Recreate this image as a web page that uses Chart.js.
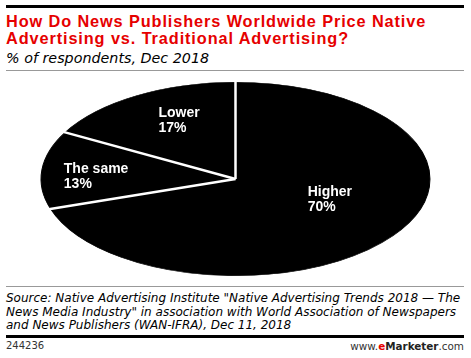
<!DOCTYPE html>
<html>
<head>
<meta charset="utf-8">
<script src="https://cdn.jsdelivr.net/npm/chart.js@4/dist/chart.umd.min.js"></script>
<style>
  html, body { margin: 0; padding: 0; background: #fff; }
  #page { position: relative; width: 471px; height: 358px; overflow: hidden; font-family: "Liberation Sans", Arial, sans-serif; }
  .rule { position: absolute; left: 6px; width: 458px; }
  #title { position: absolute; left: 6px; top: 13px; font-weight: bold; font-size: 16.3px; line-height: 17.2px; color: #e60000; letter-spacing: 0.9px; white-space: nowrap; }
  #subtitle { position: absolute; left: 6px; top: 49.5px; font-family: "DejaVu Sans", sans-serif; font-style: italic; font-size: 14.3px; color: #000; white-space: nowrap; }
  #chartBox { position: absolute; left: 0; top: 82px; width: 471px; height: 194px; }
  #source { position: absolute; left: 6px; top: 292px; font-family: "DejaVu Sans", sans-serif; font-style: italic; font-size: 12px; line-height: 13.5px; color: #000; white-space: nowrap; }
  #id { position: absolute; left: 6px; top: 340px; font-family: "DejaVu Sans", sans-serif; font-size: 10px; color: #333; }
  #brand { position: absolute; right: 7px; top: 340px; font-family: "DejaVu Sans", sans-serif; font-size: 10.4px; color: #333; }
  #brand .e { color: #e60000; font-weight: bold; }
  #brand .m { font-weight: bold; color: #222; }
</style>
</head>
<body>
<div id="page">
  <div class="rule" style="top:5px;height:3px;background:#000;"></div>
  <div id="title">How Do News Publishers Worldwide Price Native<br>Advertising vs. Traditional Advertising?</div>
  <div id="subtitle">% of respondents, Dec 2018</div>
  <div class="rule" style="top:70px;height:1px;background:#999;"></div>
  <div id="chartBox"><canvas id="c"></canvas></div>
  <div class="rule" style="top:286px;height:1px;background:#999;"></div>
  <div id="source">Source: Native Advertising Institute "Native Advertising Trends 2018 — The<br>News Media Industry" in association with World Association of Newspapers<br>and News Publishers (WAN-IFRA), Dec 11, 2018</div>
  <div class="rule" style="top:335px;height:3px;background:#000;"></div>
  <div id="id">244236</div>
  <div id="brand">www.<span class="e">e</span><span class="m">Marketer</span>.com</div>
</div>
<script>
// ---- data ----
const categories = ["Higher", "The same", "Lower"];
const values = [70, 13, 17];
const valueLabels = ["70%", "13%", "17%"];

// ---- layout options (not data) ----
const ELLIPSE_RATIO = 2.01; // horizontal stretch of the pie
const labelPlacement = [
  { fx: 0.60, fy: 0.35 },
  { fx: 0.72, fy: 0.33 },
  { fx: 0.57, fy: 0.71 }
];

const ellipsePlugin = {
  id: 'ellipse',
  beforeDatasetsDraw(chart) {
    const arc = chart.getDatasetMeta(0).data[0];
    const ctx = chart.ctx;
    ctx.save();
    ctx.translate(arc.x, arc.y);
    ctx.scale(ELLIPSE_RATIO, 1);
    ctx.translate(-arc.x, -arc.y);
  },
  afterDatasetsDraw(chart) {
    const ctx = chart.ctx;
    ctx.restore();
    const arcs = chart.getDatasetMeta(0).data;
    const cx = arcs[0].x, cy = arcs[0].y, R = arcs[0].outerRadius;
    // white separators
    ctx.save();
    ctx.strokeStyle = '#fff';
    ctx.lineWidth = 2.5;
    ctx.lineCap = 'butt';
    arcs.forEach(a => {
      const ang = a.startAngle;
      ctx.beginPath();
      ctx.moveTo(cx, cy);
      ctx.lineTo(cx + ELLIPSE_RATIO * (R + 1) * Math.cos(ang), cy + (R + 1) * Math.sin(ang));
      ctx.stroke();
    });
    ctx.restore();
    // labels
    ctx.save();
    ctx.fillStyle = '#fff';
    ctx.font = 'bold 14px "Liberation Sans", Arial, sans-serif';
    ctx.textBaseline = 'middle';
    ctx.textAlign = 'left';
    arcs.forEach((a, i) => {
      const mid = (a.startAngle + a.endAngle) / 2;
      const p = labelPlacement[i];
      const x = cx + ELLIPSE_RATIO * R * p.fx * Math.cos(mid);
      const y = cy + R * p.fy * Math.sin(mid);
      const l1 = categories[i], l2 = valueLabels[i];
      const w = Math.max(ctx.measureText(l1).width, ctx.measureText(l2).width);
      const left = x - w / 2;
      ctx.fillText(l1, left, y - 7);
      ctx.fillText(l2, left, y + 8);
    });
    ctx.restore();
  }
};

new Chart(document.getElementById('c'), {
  type: 'pie',
  data: {
    labels: categories,
    datasets: [{
      data: values,
      backgroundColor: '#000',
      borderColor: '#000',
      borderWidth: 0.5,
      clip: false
    }]
  },
  options: {
    responsive: true,
    maintainAspectRatio: false,
    animation: false,
    layout: { padding: 0 },
    plugins: { legend: { display: false }, tooltip: { enabled: false } }
  },
  plugins: [ellipsePlugin]
});
</script>
</body>
</html>
